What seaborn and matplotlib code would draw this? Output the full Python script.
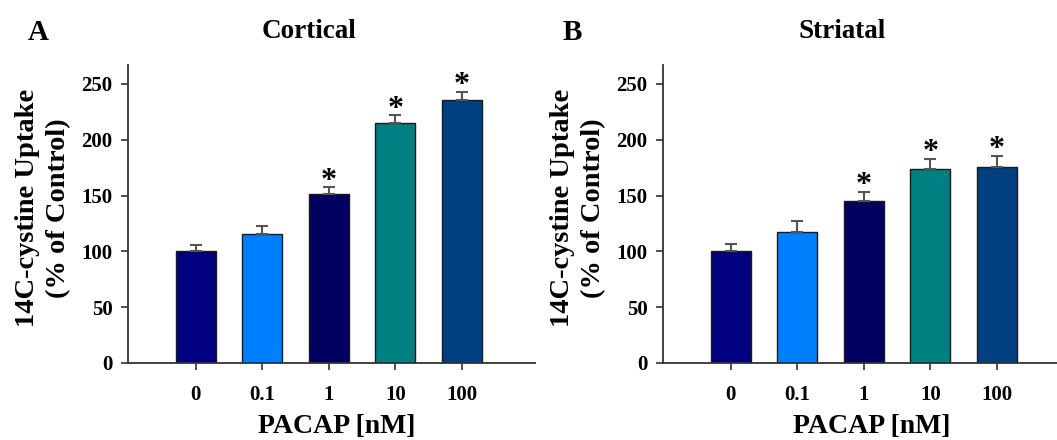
import numpy as np
import pandas as pd
import matplotlib
matplotlib.use("Agg")
import matplotlib.pyplot as plt
import seaborn as sns

# ---- data ----
doses = ["0", "0.1", "1", "10", "100"]
cortical_mean = [100, 116, 151, 215, 236]
cortical_err = [6, 7, 6.5, 7, 7]
striatal_mean = [100, 117, 145, 174, 176]
striatal_err = [6.5, 10, 8.5, 9, 9.5]
cortical_sig = [False, False, True, True, True]
striatal_sig = [False, False, True, True, True]
bar_colors = ["#000080", "#0080ff", "#000060", "#008080", "#004080"]
yticks = [0, 50, 100, 150, 200, 250]

sns.set_style("white")
plt.rcParams["font.family"] = ["Liberation Serif", "DejaVu Serif"]
plt.rcParams["font.weight"] = "bold"
plt.rcParams["text.color"] = "black"
plt.rcParams["xtick.color"] = "black"
plt.rcParams["ytick.color"] = "black"

fig = plt.figure(figsize=(10.57, 4.4), dpi=100)
W, H = 1057, 440

def panel(left_px, right_px, mean, err, sig):
    ax = fig.add_axes([left_px / W, 1 - 363 / H, (right_px - left_px) / W, (363 - 65) / H])
    df = pd.DataFrame({"dose": doses, "value": mean})
    sns.barplot(data=df, x="dose", y="value", hue="dose", order=doses,
                palette=dict(zip(doses, bar_colors)), width=0.6, legend=False,
                saturation=1, edgecolor="#1a1a1a", linewidth=1.0, errorbar=None, ax=ax)
    xs = np.arange(len(doses))
    ax.errorbar(xs, mean, yerr=[np.zeros(len(err)), err], fmt="none",
                ecolor="#555555", elinewidth=1.5, capsize=4, capthick=1.5, zorder=1)
    for x, m, e, s in zip(xs, mean, err, sig):
        if s:
            ax.annotate("*", (x, m + e), xytext=(0, -6), textcoords="offset points",
                        ha="center", va="bottom", fontsize=23, fontweight="bold")
    ax.set_ylim(0, 267)
    ax.set_xlim(-1.02, 5.1)
    ax.set_yticks(yticks)
    ax.set_xlabel("")
    ax.set_ylabel("")
    for sp in ["top", "right"]:
        ax.spines[sp].set_visible(False)
    for sp in ["left", "bottom"]:
        ax.spines[sp].set_color("#333333")
        ax.spines[sp].set_linewidth(1.3)
    ax.tick_params(axis="y", direction="out", length=5, width=1.2, color="#333333",
                   pad=6, labelsize=15, left=True)
    ax.tick_params(axis="x", direction="out", length=5, width=1.2, color="#333333",
                   pad=11, labelsize=15, bottom=True)
    for lab in ax.get_xticklabels() + ax.get_yticklabels():
        lab.set_fontweight("bold")
    return ax

axA = panel(128, 535, cortical_mean, cortical_err, cortical_sig)
axB = panel(663, 1070, striatal_mean, striatal_err, striatal_sig)

# letters and titles
fig.text(38 / W, 1 - 32 / H, "A", ha="center", va="center", fontsize=21, fontweight="bold")
fig.text(309 / W, 1 - 32 / H, "Cortical", ha="center", va="center", fontsize=19.5, fontweight="bold")
fig.text(572 / W, 1 - 32 / H, "B", ha="center", va="center", fontsize=21, fontweight="bold")
fig.text(842 / W, 1 - 32 / H, "Striatal", ha="center", va="center", fontsize=19.5, fontweight="bold")

# y labels
ylab = "14C-cystine Uptake\n(% of Control)"
fig.text(43 / W, 1 - 208 / H, ylab, rotation=90, ha="center", va="center",
         multialignment="center", fontsize=20.5, fontweight="bold", linespacing=1.3)
fig.text(578 / W, 1 - 208 / H, ylab, rotation=90, ha="center", va="center",
         multialignment="center", fontsize=20.5, fontweight="bold", linespacing=1.3)

# x labels
fig.text(337 / W, 1 - 426 / H, "PACAP [nM]", ha="center", va="center", fontsize=20, fontweight="bold")
fig.text(872 / W, 1 - 426 / H, "PACAP [nM]", ha="center", va="center", fontsize=20, fontweight="bold")

fig.savefig("out.png", dpi=100)
